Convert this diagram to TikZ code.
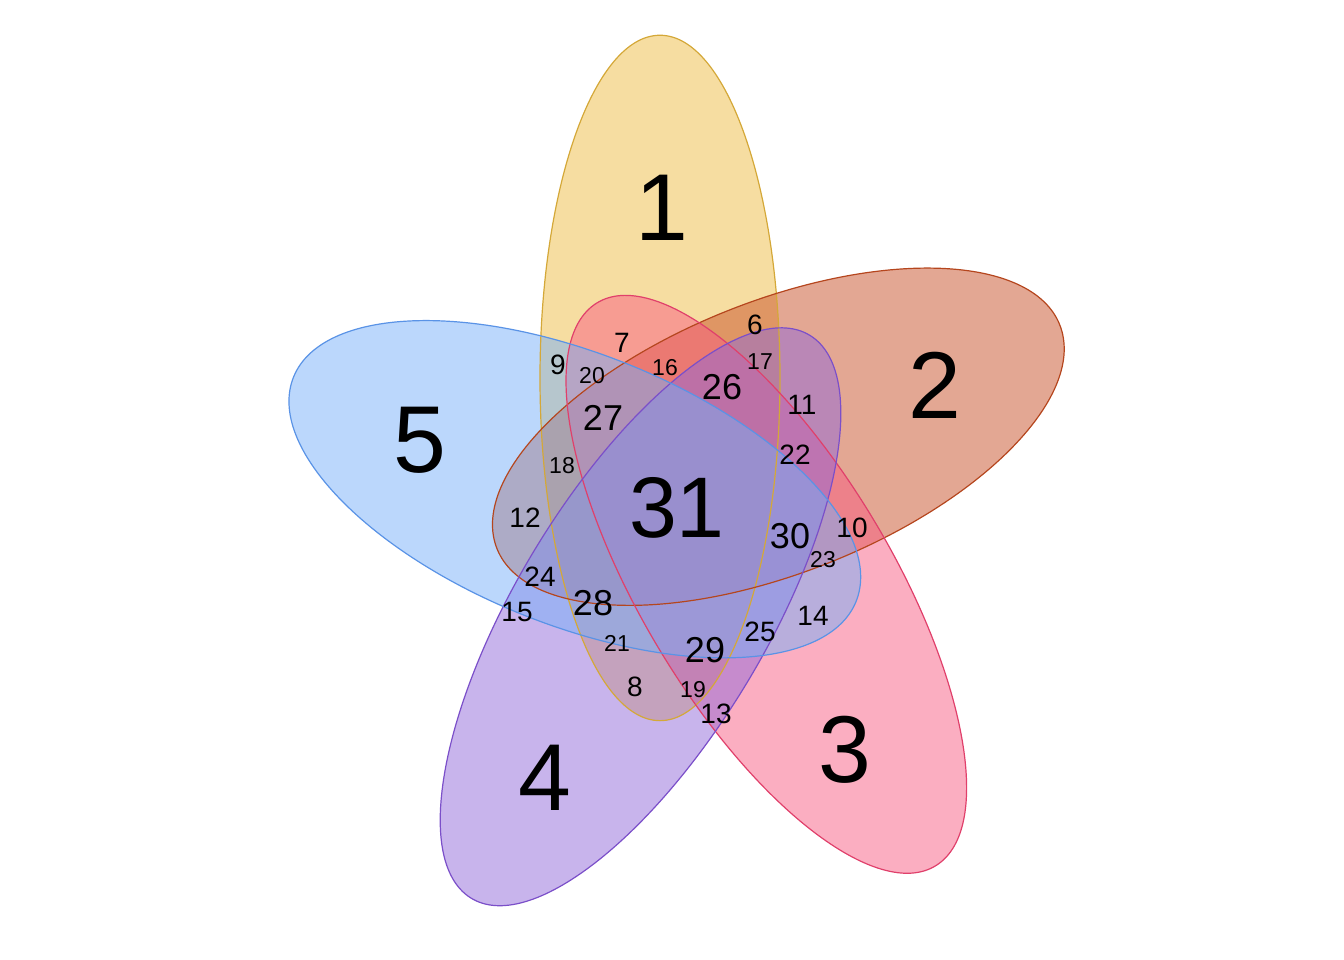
\documentclass[tikz,border=0pt]{standalone}
\usepackage{fontspec}
\setmainfont{Liberation Sans}
\definecolor{c1}{HTML}{EEBB44}\definecolor{s1}{HTML}{D4A838}
\definecolor{c2}{HTML}{C85028}\definecolor{s2}{HTML}{B5461E}
\definecolor{c3}{HTML}{F75D83}\definecolor{s3}{HTML}{E0406B}
\definecolor{c4}{HTML}{9169D9}\definecolor{s4}{HTML}{7B4FC9}
\definecolor{c5}{HTML}{77AFF9}\definecolor{s5}{HTML}{5A93E6}
\tikzset{
 big/.style={font=\fontsize{95}{95}\selectfont},
 huge/.style={font=\fontsize{86}{86}\selectfont},
 lab/.style={font=\fontsize{36}{36}\selectfont},
 mid/.style={font=\fontsize{28}{28}\selectfont},
 sml/.style={font=\fontsize{23}{23}\selectfont},
}
\begin{document}
\begin{tikzpicture}[x=1pt,y=-1pt]
\useasboundingbox (0,0) rectangle (1344,960);
\foreach \k/\c/\s in {0/c1/s1,1/c2/s2,2/c3/s3,3/c4/s4,4/c5/s5}{
 \begin{scope}[shift={(684,501)},yscale=1.15,rotate=-72*\k,x=1pt,y=1pt]
  \fill[\c,fill opacity=0.5] (-24,107) ellipse [x radius=120,y radius=298];
 \end{scope}}
\foreach \k/\c/\s in {0/c1/s1,1/c2/s2,2/c3/s3,3/c4/s4,4/c5/s5}{
 \begin{scope}[shift={(684,501)},yscale=1.15,rotate=-72*\k,x=1pt,y=1pt]
  \draw[\s,line width=1.2pt] (-24,107) ellipse [x radius=120,y radius=298];
 \end{scope}}
\node[big] (n1) at (662,208) {1};
\node[big] (n2) at (935,385) {2};
\node[big] (n3) at (845,750) {3};
\node[big] (n4) at (545,778) {4};
\node[big] (n5) at (420,440) {5};
\node[huge] (n31) at (677,508) {31};
\foreach \t/\x/\y in {26/722/387,27/603/418,28/593/603,29/705/650,30/790/536}
 \node[lab] (l\t) at (\x,\y) {\t};
\foreach \t/\x/\y in {7/622/343,6/755/325,9/558/365,11/802/405,22/795/455,12/525/518,10/852/528,14/813/616,25/760/632,8/635/687,13/716/714,24/540/577,15/517/612}
 \node[mid] (m\t) at (\x,\y) {\t};
\foreach \t/\x/\y in {20/592/376,16/665/368,17/760/362,18/562/466,23/823/560,21/617/643,19/693/690}
 \node[sml] (s\t) at (\x,\y) {\t};
\end{tikzpicture}
\end{document}
